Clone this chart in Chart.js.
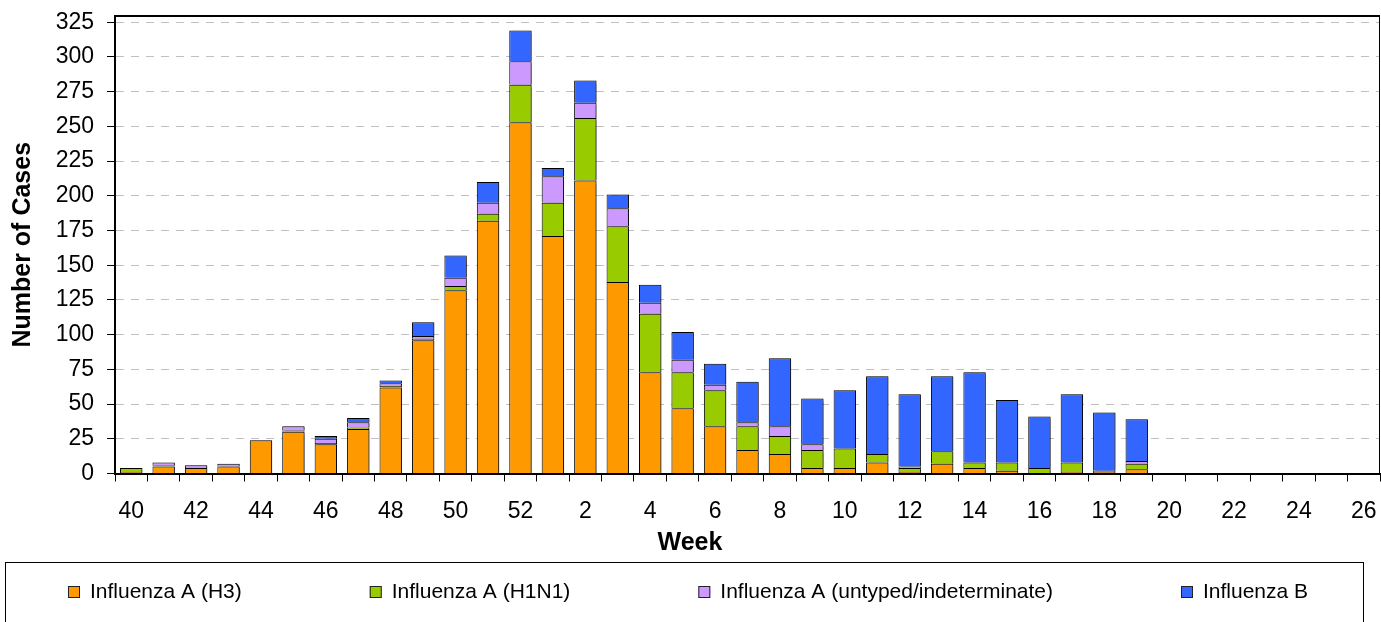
<!DOCTYPE html>
<html>
<head>
<meta charset="utf-8">
<title>Influenza cases by week</title>
<script src="https://cdn.jsdelivr.net/npm/chart.js@4.4.1/dist/chart.umd.min.js"></script>
<style>
  html, body { margin: 0; padding: 0; background: #fff; }
</style>
</head>
<body>
<canvas id="fluChart" width="1381" height="622"></canvas>
<script>
/* ---------- Data ---------- */
const weeks = [40, 41, 42, 43, 44, 45, 46, 47, 48, 49, 50, 51, 52,
  1, 2, 3, 4, 5, 6, 7, 8, 9, 10, 11, 12, 13, 14, 15, 16, 17, 18, 19, 20, 21, 22, 23, 24, 25, 26];

const fluH3 = [1, 5, 4, 5, 24, 30, 21, 32, 62, 96, 132, 182, 253,
  171, 211, 138, 73, 47, 34, 17, 14, 4, 4, 8, 1, 7, 4, 2, 0, 1, 1, 3, 0, 0, 0, 0, 0, 0, 0];
const fluH1N1 = [3, 1, 0, 0, 0, 1, 1, 1, 1, 1, 3, 5, 27,
  24, 45, 40, 42, 26, 26, 17, 13, 13, 14, 6, 3, 9, 4, 6, 4, 7, 1, 4, 0, 0, 0, 0, 0, 0, 0];
const fluUntyped = [0, 2, 2, 2, 0, 3, 3, 4, 2, 2, 6, 8, 17,
  19, 11, 13, 8, 9, 4, 3, 7, 4, 0, 0, 1, 0, 0, 0, 0, 0, 0, 2, 0, 0, 0, 0, 0, 0, 0];
const fluB = [0, 0, 0, 0, 0, 0, 2, 3, 2, 10, 16, 15, 22,
  6, 16, 10, 13, 20, 15, 29, 49, 33, 42, 56, 52, 54, 65, 45, 37, 49, 42, 30, 0, 0, 0, 0, 0, 0, 0];

const seriesNames = ["Influenza A (H3)", "Influenza A (H1N1)", "Influenza A (untyped/indeterminate)", "Influenza B"];
const seriesColors = ["#FF9900", "#99CC00", "#CC99FF", "#3366FF"];

/* ---------- Look ---------- */
const FONT = "'Liberation Sans', Arial, sans-serif";
Chart.defaults.font.family = FONT;
Chart.defaults.color = "#000";

// soft grey shadow behind the bars, like the spreadsheet export
const barShadow = {
  id: "barShadow",
  beforeDatasetsDraw(chart) {
    const c = chart.ctx;
    c.save();
    c.shadowColor = "rgba(0,0,0,0.45)";
    c.shadowOffsetX = 2;
    c.shadowOffsetY = 1;
    c.shadowBlur = 2;
  },
  afterDatasetsDraw(chart) {
    chart.ctx.restore();
  }
};

// top and right edges of the plot box
const plotFrame = {
  id: "plotFrame",
  afterDraw(chart) {
    const { ctx, chartArea: a } = chart;
    ctx.save();
    ctx.strokeStyle = "#000";
    ctx.lineWidth = 2;
    ctx.beginPath();
    ctx.moveTo(a.left, a.top);
    ctx.lineTo(a.right, a.top);
    ctx.stroke();
    ctx.lineWidth = 1;
    ctx.beginPath();
    ctx.moveTo(a.right - 0.5, a.top);
    ctx.lineTo(a.right - 0.5, a.bottom);
    ctx.stroke();
    ctx.restore();
  }
};

// boxed legend along the bottom, items spread across the width
const boxLegend = {
  id: "boxLegend",
  afterDraw(chart) {
    const { ctx } = chart;
    const sets = chart.data.datasets;
    ctx.save();
    ctx.strokeStyle = "#000";
    ctx.lineWidth = 1;
    ctx.strokeRect(5.5, 562.5, 1358, 80);
    ctx.font = "21px " + FONT;
    ctx.textBaseline = "middle";
    const firstX = 68, lastX = 1181, midY = 592, box = 12, gap = 10;
    const widths = sets.map(d => box + gap + ctx.measureText(d.label).width);
    const used = widths.slice(0, -1).reduce((s, w) => s + w, 0);
    const spacing = (lastX - firstX - used) / (sets.length - 1);
    let x = firstX;
    sets.forEach((d, i) => {
      ctx.fillStyle = d.backgroundColor;
      ctx.fillRect(x, midY - box / 2, box, box);
      ctx.strokeStyle = "#222";
      ctx.strokeRect(x + 0.5, midY - box / 2 + 0.5, box - 1, box - 1);
      ctx.fillStyle = "#000";
      ctx.fillText(d.label, x + box + gap, midY);
      x += widths[i] + spacing;
    });
    ctx.restore();
  }
};

/* ---------- Chart ---------- */
const seriesValues = [fluH3, fluH1N1, fluUntyped, fluB];

new Chart(document.getElementById("fluChart"), {
  type: "bar",
  data: {
    labels: weeks,
    datasets: seriesValues.map((vals, i) => ({
      label: seriesNames[i],
      data: vals,
      backgroundColor: seriesColors[i],
      borderColor: "#000",
      borderWidth: 1,
      barPercentage: 0.69,
      categoryPercentage: 1
    }))
  },
  options: {
    responsive: false,
    animation: false,
    layout: { padding: { left: 0, right: 1, top: 16, bottom: 60 } },
    plugins: {
      legend: { display: false },
      tooltip: { enabled: false },
      title: {
        display: true,
        text: "Week",
        position: "bottom",
        color: "#000",
        font: { size: 25, weight: "bold" },
        padding: { top: 0, bottom: 3.6 }
      }
    },
    scales: {
      x: {
        stacked: true,
        grid: { offset: true, drawOnChartArea: false, tickLength: 8, tickColor: "#000", tickWidth: 1 },
        border: { color: "#000", width: 2 },
        ticks: {
          autoSkip: false,
          maxRotation: 0,
          padding: 16,
          font: { size: 23 },
          color: "#000",
          callback: function (value, index) {
            return index % 2 === 0 ? this.getLabelForValue(value) : "";
          }
        },
        afterFit(scale) {
          scale.height = 54.9;
          scale.paddingLeft = 0;
          scale.paddingRight = 0;
        }
      },
      y: {
        stacked: true,
        min: 0,
        max: 329.5,
        ticks: { stepSize: 25, includeBounds: false, padding: 13, font: { size: 23 }, color: "#000" },
        grid: {
          color: c => (c.tick && c.tick.value === 0 ? "rgba(0,0,0,0)" : "#c0c0c0"),
          tickColor: "#000",
          tickLength: 8
        },
        border: { color: "#000", width: 2, dash: [8, 7] },
        title: {
          display: true,
          text: "Number of Cases",
          color: "#000",
          font: { size: 25, weight: "bold" },
          padding: { top: 8, bottom: 0 }
        },
        afterFit(scale) {
          scale.width = 115;
          scale.paddingTop = 0;
          scale.paddingBottom = 0;
        }
      }
    }
  },
  plugins: [barShadow, plotFrame, boxLegend]
});
</script>
</body>
</html>
